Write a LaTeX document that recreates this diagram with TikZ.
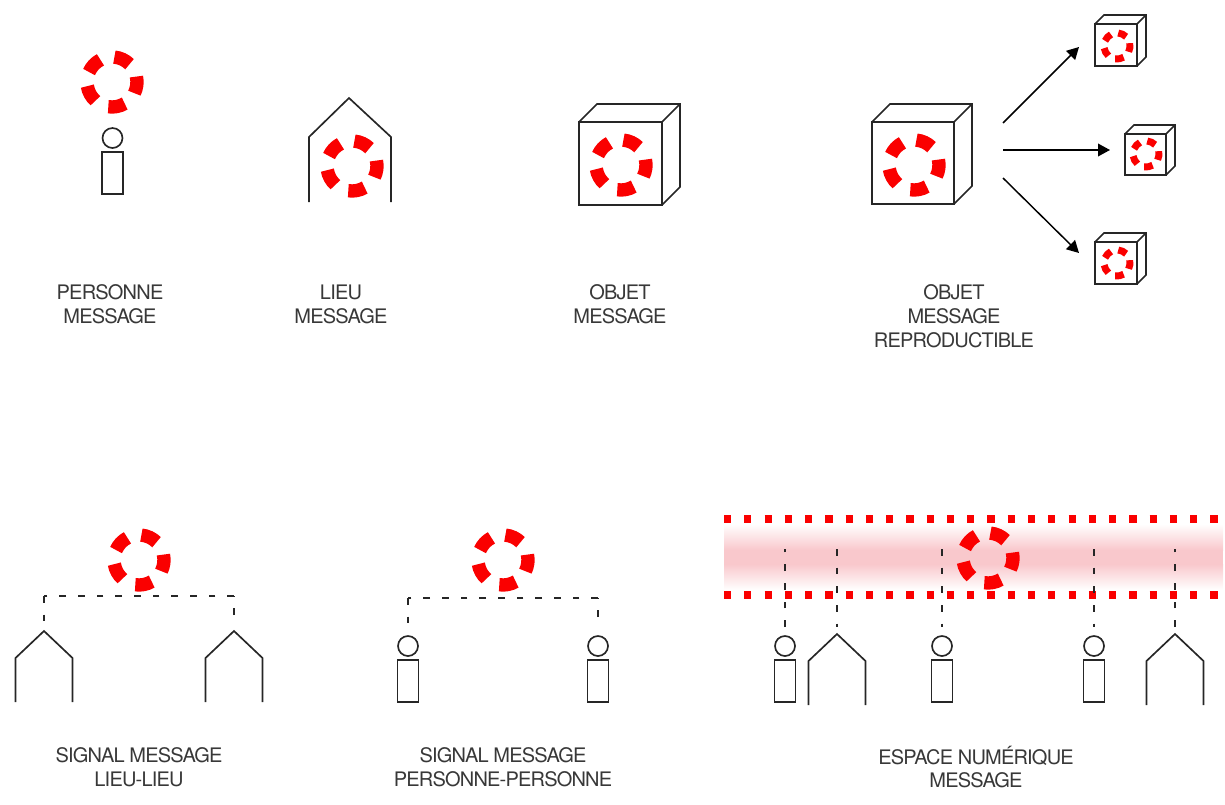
\documentclass[tikz,border=0pt]{standalone}
\usepackage{fontspec}
\setmainfont[LetterSpace=-4]{TeX Gyre Heros}
\usetikzlibrary{arrows.meta}
\definecolor{ringred}{HTML}{FA0000}
\definecolor{lbl}{HTML}{383838}
\definecolor{pinkband}{HTML}{F9C8CC}
\tikzset{
  x=0.75pt,y=-0.75pt,
  outline/.style={draw=black!85,line width=1.25pt,line join=miter},
  lab/.style={font=\fontsize{15pt}{17.9pt}\selectfont,text=lbl,align=center,inner sep=0pt},
  dashlink/.style={draw=black!85,line width=1.2pt,dash pattern=on 5pt off 9pt},
  dotline/.style={draw=ringred,line width=5.4pt,dash pattern=on 5.4pt off 9.8pt},
  flow/.style={draw=black,line width=1.1pt,-{Triangle[length=9pt,width=9.5pt]}},
}
% ring: centre x, y, scale
\newcommand{\ringmark}[3]{%
  \foreach \a in {-26.5,45.5,117.5,189.5,261.5}{%
    \pgfmathsetmacro{\sa}{-\a}%
    \pgfmathsetmacro{\sb}{-\a-39}%
    \pgfmathsetmacro{\rr}{#3*25}%
    \draw[ringred,line width=#3*10pt]
      ([shift={(\sa:\rr)}]#1,#2) arc[start angle=\sa,end angle=\sb,radius=\rr];
  }}
\newcommand{\person}[3]{% name, x, head y
  \node[outline,circle,minimum size=15pt,inner sep=0pt] (#1h) at (#2,#3) {};
  \draw[outline] (#2-10.5,#3+14) rectangle (#2+10.5,#3+56);
}
\newcommand{\house}[3]{% name, x, apex y
  \coordinate (#1) at (#2,#3);
  \draw[outline] (#2-28.5,#3+71) -- (#2-28.5,#3+27) -- (#1) -- (#2+28.5,#3+27) -- (#2+28.5,#3+71);
}
\newcommand{\cube}[5]{% x0 y0 x1 y1 off
  \draw[outline] (#1,#2) rectangle (#3,#4);
  \draw[outline] (#1,#2) -- (#1+#5,#2-#5) -- (#3+#5,#2-#5) -- (#3+#5,#4-#5) -- (#3,#4);
  \draw[outline] (#3,#2) -- (#3+#5,#2-#5);
}
\begin{document}
\begin{tikzpicture}
\useasboundingbox (0,0) rectangle (1225,804);
% top row
\ringmark{112}{82}{1}
\person{pa}{112.5}{138}
\coordinate (lh) at (349,98);
\draw[outline] (309,202) -- (309,137) -- (lh) -- (391,137) -- (391,202);
\ringmark{352}{166}{1}
\cube{579}{122}{662}{205}{18}
\ringmark{621}{165}{1}
\cube{872}{122}{954}{204}{18}
\ringmark{914}{165}{1}
\cube{1095}{24}{1137}{66}{9}
\ringmark{1117}{46}{0.52}
\cube{1125}{134}{1166}{175}{9}
\ringmark{1146}{154}{0.52}
\cube{1095}{242}{1137}{284}{9}
\ringmark{1117}{263}{0.52}
\coordinate (s1) at (1003,123); \coordinate (t1) at (1079,47);
\coordinate (s2) at (1003,150); \coordinate (t2) at (1110,150);
\coordinate (s3) at (1003,178); \coordinate (t3) at (1079,253);
\draw[flow] (s1) -- (t1);
\draw[flow] (s2) -- (t2);
\draw[flow] (s3) -- (t3);
\node[lab] (l1) at (110,304) {PERSONNE\\MESSAGE};
\node[lab] (l2) at (341,304) {LIEU\\MESSAGE};
\node[lab] (l3) at (620,304) {OBJET\\MESSAGE};
\node[lab] (l4) at (954,316) {OBJET\\MESSAGE\\REPRODUCTIBLE};
% bottom left
\ringmark{139}{560}{1}
\house{h1}{44}{631}
\house{h2}{234}{631}
\coordinate (c1) at (44,596); \coordinate (c2) at (234,596);
\coordinate (d1) at (44,622); \coordinate (d2) at (234,615);
\draw[dashlink] (c1) -- (d1);
\draw[dashlink] (c2) -- (c1);
\draw[dashlink] (d2) -- (c2);
% bottom middle
\ringmark{503}{560}{1}
\person{pb}{408}{646}
\person{pc}{598}{646}
\coordinate (c3) at (408,598); \coordinate (c4) at (598,598);
\coordinate (d3) at (408,624); \coordinate (d4) at (598,617);
\draw[dashlink] (c3) -- (d3);
\draw[dashlink] (c4) -- (c3);
\draw[dashlink] (d4) -- (c4);
% band
\shade[top color=white,bottom color=pinkband] (724,524) rectangle (1223,550);
\fill[pinkband] (724,549.5) rectangle (1223,564.5);
\shade[top color=pinkband,bottom color=white] (724,564) rectangle (1223,590);
\coordinate (b1) at (724,519); \coordinate (b2) at (1223,519);
\coordinate (b3) at (724,595); \coordinate (b4) at (1223,595);
\draw[dotline] (b1) -- (b2);
\draw[dotline] (b3) -- (b4);
\ringmark{988}{558}{1}
\person{pd}{785}{646}
\person{pe}{942}{646}
\person{pf}{1094}{646}
\house{h3}{837}{634}
\house{h4}{1175}{634}
\foreach \n/\x in {b/837,c/942,d/1094}{
  \coordinate (v\n) at (\x,549);
  \coordinate (w\n) at (\x,627);
  \draw[dashlink] (v\n) -- (w\n);
}
\foreach \n/\x in {a/785,e/1175}{
  \coordinate (v\n) at (\x,549);
  \coordinate (w\n) at (\x,627);
  \draw[dashlink] (w\n) -- (v\n);
}
\node[lab] (l5) at (139,767) {SIGNAL MESSAGE\\LIEU-LIEU};
\node[lab] (l6) at (503,767) {SIGNAL MESSAGE\\PERSONNE-PERSONNE};
\node[lab] (l7) at (976,767) {ESPACE NUMÉRIQUE\\MESSAGE};
\end{tikzpicture}
\end{document}
